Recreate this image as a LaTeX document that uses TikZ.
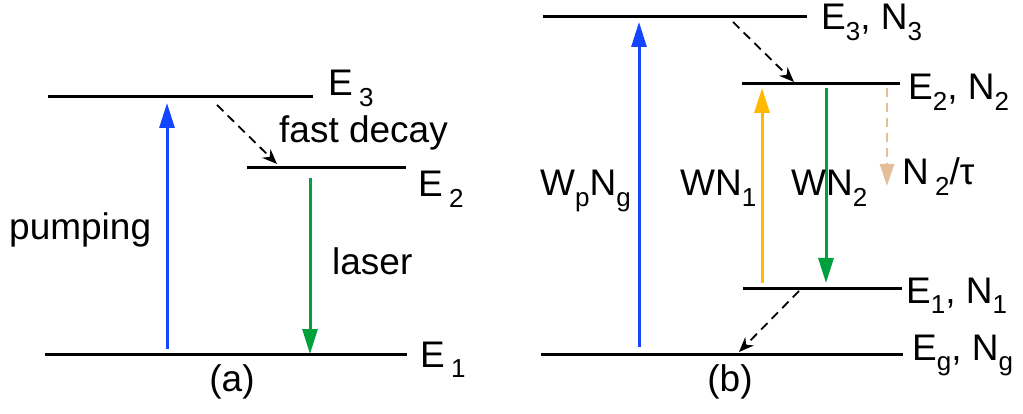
\documentclass[tikz,border=0pt]{standalone}
\usepackage{fontspec}
\setmainfont{Liberation Sans}
\usetikzlibrary{arrows.meta}
\definecolor{pblue}{RGB}{20,70,255}
\definecolor{lgreen}{RGB}{0,160,60}
\definecolor{lyellow}{RGB}{255,185,0}
\definecolor{ltan}{RGB}{228,190,150}
\newcommand\sbs[1]{\raisebox{-0.28em}{\fontsize{26}{26}\selectfont #1}}
\tikzset{
  level/.style={line width=3pt},
  lbl/.style={inner sep=0pt, anchor=base west, font=\fontsize{37}{37}\selectfont},
  captxt/.style={inner sep=0pt, anchor=base, font=\fontsize{37}{37}\selectfont},
  bigarrow/.style={line width=3pt, -{Triangle[length=25pt,width=15pt]}},
  dasharrow/.style={line width=1.8pt, dash pattern=on 9pt off 6pt, -{Stealth[length=15pt,width=12pt]}},
}
\begin{document}
\begin{tikzpicture}[x=1pt,y=-1pt]
\useasboundingbox (0,0) rectangle (1023,414);
% ---------- panel (a)
\coordinate (a3l) at (48,97);  \coordinate (a3r) at (313,97);
\coordinate (a2l) at (247,168); \coordinate (a2r) at (406,168);
\coordinate (a1l) at (45,354); \coordinate (a1r) at (407,354);
\draw[level] (a3l) -- (a3r);
\draw[level] (a2l) -- (a2r);
\draw[level] (a1l) -- (a1r);
\node[lbl] (aE3) at (328,96) {E\,\sbs{3}};
\node[lbl] (aE2) at (418,197) {E\,\sbs{2}};
\node[lbl] (aE1) at (420,367) {E\,\sbs{1}};
\coordinate (pb) at (167,349); \coordinate (pt) at (167,103);
\draw[bigarrow, pblue] (pb) -- (pt);
\coordinate (lt) at (310,178); \coordinate (lb) at (310,354);
\draw[bigarrow, lgreen] (lt) -- (lb);
\coordinate (ds) at (217,105); \coordinate (de) at (277,164);
\draw[dasharrow] (ds) -- (de);
\node[lbl] (fd) at (279,143) {fast decay};
\node[lbl] (pump) at (9,240) {pumping};
\node[lbl] (las) at (332,275) {laser};
\node[captxt] (capa) at (232,391) {(a)};
% ---------- panel (b)
\coordinate (b3l) at (543,17);  \coordinate (b3r) at (807,17);
\coordinate (b2l) at (742,84);  \coordinate (b2r) at (900,84);
\coordinate (b1l) at (743,288); \coordinate (b1r) at (902,288);
\coordinate (bgl) at (541,354); \coordinate (bgr) at (903,354);
\draw[level] (b3l) -- (b3r);
\draw[level] (b2l) -- (b2r);
\draw[level] (b1l) -- (b1r);
\draw[level] (bgl) -- (bgr);
\node[lbl] (bE3) at (821,30) {E\sbs{3}, N\sbs{3}};
\node[lbl] (bE2) at (908,100) {E\sbs{2}, N\sbs{2}};
\node[lbl] (bE1) at (906,303) {E\sbs{1}, N\sbs{1}};
\node[lbl] (bEg) at (912,360) {E\sbs{g}, N\sbs{g}};
\coordinate (wpb) at (639,347); \coordinate (wpt) at (639,22);
\draw[bigarrow, pblue] (wpb) -- (wpt);
\coordinate (yb) at (762,283); \coordinate (yt) at (762,88);
\draw[bigarrow, lyellow] (yb) -- (yt);
\coordinate (gt) at (826,88); \coordinate (gb) at (826,283);
\draw[bigarrow, lgreen] (gt) -- (gb);
\coordinate (tt) at (887,88); \coordinate (tb) at (887,186);
\draw[line width=2.5pt, ltan, dash pattern=on 9pt off 6pt, -{Triangle[length=22pt,width=14pt]}] (tt) -- (tb);
\node[lbl] (tau) at (902,185) {N\,\sbs{2}/τ};
\coordinate (d2s) at (733,22); \coordinate (d2e) at (794,82);
\draw[dasharrow] (d2s) -- (d2e);
\coordinate (d1s) at (799,291); \coordinate (d1e) at (739,352);
\draw[dasharrow] (d1s) -- (d1e);
\node[lbl] (wpng) at (540,196) {W\sbs{p}N\sbs{g}};
\node[lbl] (wn1) at (680,196) {WN\sbs{1}};
\node[lbl] (wn2) at (791,196) {WN\sbs{2}};
\node[captxt] (capb) at (730,391) {(b)};
\end{tikzpicture}
\end{document}
